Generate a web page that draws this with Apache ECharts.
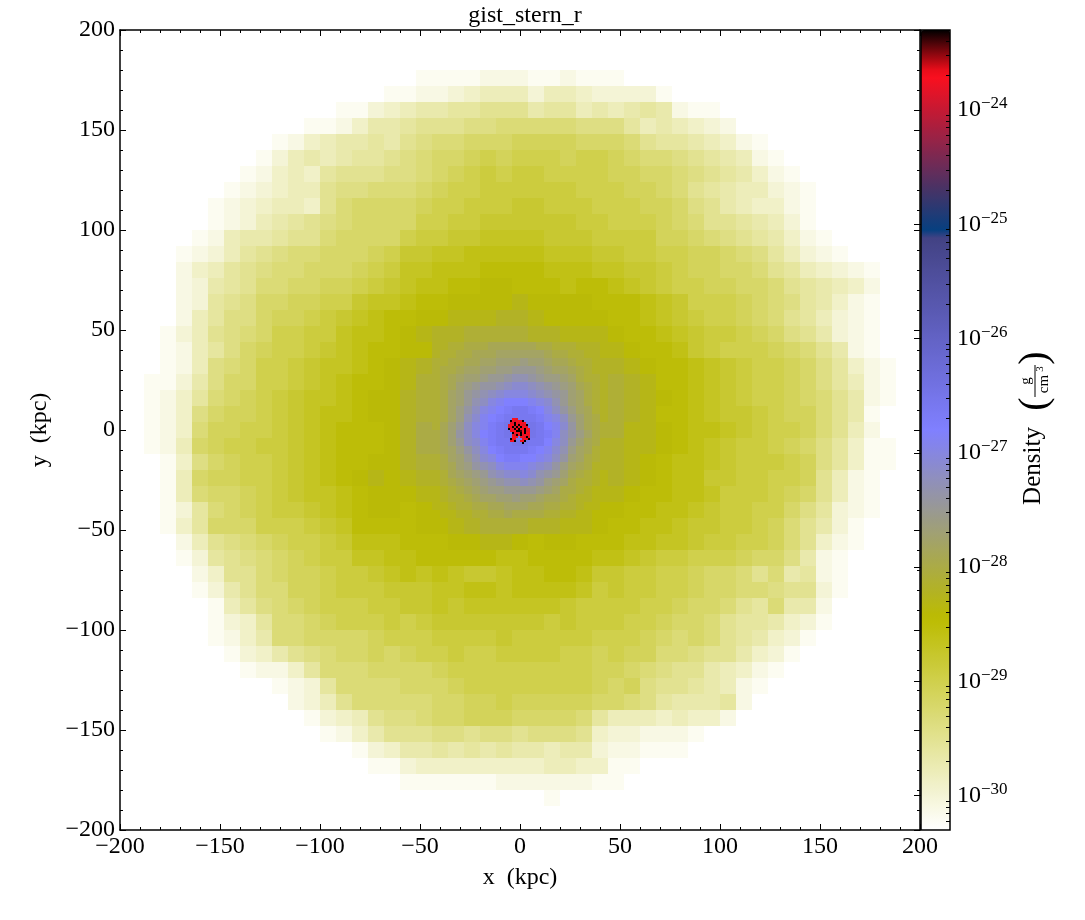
<!DOCTYPE html>
<html>
<head>
<meta charset="utf-8">
<title>gist_stern_r</title>
<style>
    html, body { margin: 0; padding: 0; background: #fff; }
    #myChart { width: 1085px; height: 920px; }
</style>
<script src="https://cdn.jsdelivr.net/npm/echarts@6/dist/echarts.min.js"></script>
</head>
<body>
<div id="myChart"></div>
<script>
// density in tenths of a decade above 1e-31 g/cm3, 0 = nothing drawn
// outer grid: 8 kpc cells, x and y from -184 to 184, top row first
var outerX = [-184,-176,-168,-160,-152,-144,-136,-128,-120,-112,-104,-96,-88,-80,-72,-64,-56,-48,-40,-32,-24,-16,-8,0,8,16,24,32,40,48,56,64,72,80,88,96,104,112,120,128,136,144,152,160,168,176,184];
var outerY = outerX.slice().reverse();
var outerRows = [
[],
[0,0,0,0,0,0,0,0,0,0,0,0,0,0,0,0,0,8,8,8,8,9,9,9,8,8,9,8,8,8],
[0,0,0,0,0,0,0,0,0,0,0,0,0,0,0,8,8,9,9,10,11,12,12,12,10,12,12,11,10,10,10,10,8],
[0,0,0,0,0,0,0,0,0,0,0,0,8,8,10,11,12,13,13,14,14,15,15,15,13,14,14,12,13,12,13,14,13,9,8,8],
[0,0,0,0,0,0,0,0,0,0,8,8,9,11,13,13,14,15,15,15,16,16,17,17,17,17,17,16,16,16,14,12,13,12,11,10,9],
[0,0,0,0,0,0,0,0,8,9,11,12,13,13,14,13,15,16,17,17,18,18,18,19,19,19,19,18,18,18,17,15,14,14,13,12,11,9,8],
[0,0,0,0,0,0,0,8,10,12,13,12,13,14,14,15,16,17,18,18,19,20,19,20,20,20,19,20,20,19,18,17,17,16,15,14,13,12,9,8],
[0,0,0,0,0,0,8,9,11,12,11,14,15,15,15,16,16,17,18,19,20,21,20,21,21,20,20,20,20,19,19,18,18,17,16,15,14,13,11,9,8],
[0,0,0,0,0,8,9,10,11,12,12,15,16,16,17,17,17,18,19,20,20,21,21,21,21,21,21,20,20,20,19,19,18,17,15,14,13,12,12,10,9,8],
[0,0,0,0,8,9,10,11,12,12,11,15,17,18,18,18,18,19,20,20,21,21,21,22,22,21,21,21,20,20,20,19,19,18,16,15,13,12,11,11,9,8],
[0,0,0,0,8,9,10,12,13,14,15,16,17,18,18,18,18,20,20,21,21,22,22,22,22,22,22,21,21,20,20,20,19,18,17,15,15,14,13,12,10,8],
[0,0,0,8,9,12,13,13,14,15,15,17,18,18,18,18,20,21,21,22,22,23,23,23,23,22,22,22,21,21,21,21,19,19,18,17,16,15,14,13,11,9,8],
[0,0,8,9,10,12,14,15,16,17,17,18,18,18,19,20,22,22,23,23,24,24,24,24,24,23,23,23,22,22,21,21,20,20,19,19,18,17,16,14,12,10,9,8],
[0,0,9,11,12,14,15,16,17,17,18,18,18,19,20,21,23,23,24,24,24,25,25,25,25,24,24,24,23,23,22,22,21,20,19,19,18,18,17,15,14,12,11,10,9,8],
[0,0,9,10,13,14,15,17,17,18,18,19,19,20,21,22,23,24,24,25,25,26,26,25,25,25,24,25,25,24,23,22,21,20,20,19,19,18,18,17,15,14,13,12,11,9],
[0,0,9,10,14,15,16,18,18,19,19,20,20,22,23,23,24,25,25,26,26,26,26,27,26,26,26,26,25,25,25,24,23,22,20,20,20,19,18,17,16,14,13,11,9,8],
[0,0,9,12,14,16,16,18,19,19,20,21,22,23,24,25,25,26,26,27,27,27,28,28,27,26,26,26,26,25,25,24,23,22,21,20,20,19,18,17,15,14,12,10,9,8],
[0,8,10,12,15,16,17,18,20,20,21,21,23,24,24,25,26,27,28,28,29,29,29,29,28,28,27,27,27,26,25,25,24,23,22,21,21,20,19,18,16,15,13,10,9,8],
[0,8,9,12,14,16,18,19,20,20,21,22,23,24,25,25,26,26,28,29,30,30,30,30,30,29,29,28,28,27,26,25,25,24,22,21,20,20,20,19,18,17,15,13,9,8],
[0,8,9,12,16,17,18,20,20,21,22,23,23,24,25,26,27,28,29,31,31,32,32,33,33,32,31,30,29,28,27,26,25,25,24,23,22,21,20,20,19,18,16,14,11,9,8],
[8,8,10,13,16,18,18,20,20,21,22,23,24,25,25,26,27,29,30,32,33,35,37,37,36,34,33,32,30,29,28,27,25,25,24,23,22,21,20,20,19,18,16,14,12,9,8],
[8,9,11,14,17,18,19,20,21,22,23,23,24,25,26,26,28,29,31,33,36,38,40,41,39,37,35,32,30,29,28,27,26,25,24,23,22,21,20,20,19,18,17,15,13,9,8],
[8,9,11,16,18,19,19,20,21,22,23,24,24,25,26,26,28,29,31,34,37,41,43,44,43,39,36,33,30,29,28,27,25,25,24,23,22,22,21,20,19,19,17,15,13,8],
[8,9,11,17,19,19,20,20,21,22,23,24,25,25,25,26,28,30,32,36,40,43,44,45,44,42,38,34,31,29,27,27,26,25,24,24,23,22,21,20,20,19,17,15,12,9],
[8,9,12,18,19,20,20,21,21,22,23,24,25,25,25,26,28,30,32,35,39,42,44,44,43,41,37,33,30,28,27,27,26,25,24,23,22,21,21,20,19,18,16,14,11,8,8],
[0,8,11,16,18,19,20,20,21,22,23,24,25,25,26,26,28,29,31,33,36,39,40,40,38,37,35,32,30,28,27,26,25,24,24,23,22,21,21,21,20,19,16,14,11,8,8],
[0,8,12,18,19,19,20,20,21,22,23,24,25,26,27,26,27,28,30,32,34,36,37,36,35,35,33,31,29,28,27,26,25,24,24,22,22,21,21,20,20,19,15,12,9,8],
[0,8,12,17,18,18,19,20,21,22,23,23,24,25,26,26,26,27,29,30,31,32,33,33,32,32,30,29,28,27,26,25,25,24,24,23,21,21,21,20,19,18,15,12,9,8],
[0,8,10,14,17,18,19,20,21,21,22,23,24,25,26,26,25,26,27,28,29,30,31,31,30,29,29,28,27,26,25,25,24,24,23,22,21,21,20,20,18,16,14,10,9,8],
[0,8,11,14,18,18,18,20,20,20,21,22,23,25,25,25,25,26,26,27,28,29,29,29,28,28,27,27,26,25,25,24,24,23,22,22,21,21,20,19,17,15,13,10,8],
[0,0,9,12,15,16,17,18,19,20,20,21,22,24,24,24,25,25,25,26,26,27,27,26,25,26,26,25,25,25,24,24,23,23,22,21,21,20,20,19,17,15,11,9,8],
[0,0,8,10,14,15,16,17,18,19,20,21,21,23,23,24,24,25,25,25,25,25,24,24,25,25,25,25,24,24,23,22,21,21,20,20,20,19,18,18,16,13,9,8],
[0,0,0,9,11,15,15,17,18,19,19,20,21,21,22,23,24,23,24,23,22,22,23,24,24,25,25,24,22,22,21,21,20,20,19,18,18,17,15,17,13,14,9,8],
[0,0,0,8,10,13,15,17,17,19,19,20,21,21,21,22,22,22,23,23,24,24,23,24,24,24,24,23,21,22,21,21,20,20,19,18,18,17,17,16,15,15,10,8],
[0,0,0,0,8,12,14,16,17,18,19,20,20,20,21,21,22,22,23,22,23,23,23,23,23,23,22,21,21,21,21,20,20,19,18,18,17,15,14,17,13,13,9],
[0,0,0,0,8,10,11,14,17,17,18,19,20,20,20,21,20,21,22,22,22,22,22,22,22,21,22,21,21,21,20,20,19,18,18,17,15,14,14,13,11,10,8],
[0,0,0,0,8,9,11,13,17,17,18,18,18,18,19,20,20,20,21,21,21,21,22,21,21,21,21,21,20,20,20,19,18,17,18,17,15,14,13,11,10,8],
[0,0,0,0,0,8,10,11,13,15,16,17,18,18,19,18,19,20,20,21,20,20,21,21,21,21,20,20,19,20,19,19,17,17,16,15,15,13,11,10,8],
[0,0,0,0,0,0,8,9,9,11,14,17,17,17,18,18,18,18,19,20,20,20,20,20,20,20,20,20,19,19,18,17,16,15,15,13,12,11,9,8],
[0,0,0,0,0,0,0,0,8,9,10,14,17,17,17,17,18,18,18,19,20,20,20,20,20,20,20,20,19,18,19,16,15,15,14,13,12,9,8],
[0,0,0,0,0,0,0,0,0,9,10,12,15,17,17,17,17,17,18,18,19,19,20,19,19,19,19,19,18,18,17,16,14,13,13,13,14,9],
[0,0,0,0,0,0,0,0,0,0,8,10,11,12,15,16,16,17,18,18,19,19,19,18,18,18,18,17,14,12,12,12,11,12,11,11,9],
[0,0,0,0,0,0,0,0,0,0,0,8,9,11,13,15,15,15,16,16,15,16,16,15,16,16,16,15,11,10,10,9,9,9,8],
[0,0,0,0,0,0,0,0,0,0,0,0,0,8,10,11,13,13,14,13,14,13,14,13,13,12,13,13,10,9,9,8,8,8],
[0,0,0,0,0,0,0,0,0,0,0,0,0,0,8,8,10,11,11,11,11,11,11,11,11,12,12,11,11,8,8],
[0,0,0,0,0,0,0,0,0,0,0,0,0,0,0,0,8,8,8,8,8,8,9,9,9,9,9,9,8,8],
[0,0,0,0,0,0,0,0,0,0,0,0,0,0,0,0,0,0,0,0,0,0,0,0,0,8]
];

// middle grid: 4 kpc cells around the centre
var middleX = [-42,-38,-34,-30,-26,-22,-18,-14,-10,-6,-2,2,6,10,14,18,22,26,30,34,38,42];
var middleY = middleX.slice().reverse();
var middleRows = [
[28,28,29,29,30,30,30,31,31,31,31,31,31,30,30,29,29,29,28,28,28,27],
[28,29,29,30,30,31,31,31,32,32,32,32,32,32,31,30,30,29,29,28,28,27],
[29,29,30,30,31,31,32,32,33,33,33,34,33,33,32,31,31,30,29,29,28,28],
[29,30,30,31,32,32,33,33,34,34,35,35,35,34,33,32,32,31,30,29,28,28],
[29,30,31,32,33,33,34,35,35,36,37,37,36,35,34,34,33,32,30,29,29,28],
[29,30,31,33,34,35,36,36,37,38,39,39,38,37,36,35,34,33,31,30,29,28],
[29,30,32,33,35,36,37,38,39,40,40,40,39,38,37,36,35,33,32,30,29,28],
[29,30,32,33,35,37,38,40,41,42,42,42,41,40,39,37,35,33,32,30,29,28],
[29,30,32,34,36,38,40,41,42,43,44,44,43,42,40,38,36,34,32,31,29,28],
[29,30,32,34,37,39,41,42,43,44,44,44,44,43,41,40,38,35,33,31,30,28],
[29,31,33,35,38,40,41,43,44,45,45,45,45,44,42,41,39,36,33,31,30,29],
[30,31,33,36,38,40,42,43,44,45,45,45,45,44,43,41,38,36,34,32,30,29],
[30,31,33,35,38,39,41,43,44,44,45,45,44,44,42,40,38,35,33,31,30,28],
[30,31,32,34,36,38,40,42,43,44,44,44,43,42,41,39,37,34,32,31,29,28],
[29,30,32,33,35,37,39,40,42,43,43,42,42,41,40,38,36,33,32,30,29,28],
[29,30,31,33,34,36,37,38,40,41,41,41,40,39,38,36,34,32,31,30,28,28],
[28,29,31,32,33,34,35,37,38,39,39,40,39,37,36,35,33,31,30,29,28,27],
[28,29,30,31,32,33,34,35,36,37,37,38,37,36,34,33,32,30,29,29,28,27],
[27,28,29,30,31,32,33,34,34,35,35,35,35,34,33,32,30,30,29,28,27,27],
[27,28,29,29,30,31,32,32,33,33,34,33,33,32,31,31,30,29,28,28,27,27],
[27,27,28,29,29,30,30,31,31,32,32,32,31,31,30,30,29,29,28,27,27,26],
[26,27,27,28,28,29,29,30,30,31,30,30,30,30,29,29,28,28,27,27,26,26]
];

// core: 1 kpc cells, the red spiral in the middle
var coreX = [-6.5,-5.5,-4.5,-3.5,-2.5,-1.5,-0.5,0.5,1.5,2.5,3.5,4.5,5.5,6.5];
var coreY = coreX.slice().reverse();
var coreRows = [
[],
[0,0,0,73,73,72],
[0,0,77,73,71,72,73,72,77],
[0,0,72,71,77,73,71,73,72,73],
[0,72,73,73,77,73,77,73,71,72,77],
[0,72,73,77,71,77,72,77,73,73,72],
[0,77,73,71,77,73,77,73,72,77,73,73],
[0,0,72,73,73,77,77,76,73,77,71,72],
[0,0,0,77,73,72,73,77,73,77,73,73],
[0,0,0,72,71,77,73,77,71,73,72,72],
[0,0,0,73,73,72,0,72,73,71,77,73],
[0,0,77,73,72,0,0,0,72,73,73,77],
[0,0,72,73,77,0,0,72,73,77],
[0,0,0,0,0,0,0,0,77]
];

var title = 'gist_stern_r';
var xTitle = 'x\u2002(kpc)';
var yTitle = 'y\u2002(kpc)';
var barTitle = 'Density';
var barExponents = [-30, -29, -28, -27, -26, -25, -24];
var barMinor = [];
for (var d = -31; d < -23; d++) {
    for (var k = 2; k < 10; k++) {
        var e = d + Math.log10(k);
        if (e > -30.3 && e < -23.3) barMinor.push(e);
    }
}

var serif = '"Liberation Serif", "DejaVu Serif", serif';
var levelMin = 7;
var levelMax = 77;

// gist_stern reversed, same segments as matplotlib
function segment(pts, s) {
    for (var i = 1; i < pts.length; i++) {
        if (s <= pts[i][0]) {
            var a = pts[i - 1], b = pts[i];
            return a[2] + (b[1] - a[2]) * (s - a[0]) / (b[0] - a[0]);
        }
    }
    return 1;
}
var colors = [];
for (var n = 0; n <= 512; n++) {
    var s = 1 - n / 512;
    var r = segment([[0, 0, 0], [0.0547, 1, 1], [0.25, 0.027, 0.25], [1, 1, 1]], s);
    var b = segment([[0, 0, 0], [0.5, 1, 1], [0.735, 0, 0], [1, 1, 1]], s);
    colors.push('rgb(' + Math.round(r * 255) + ',' + Math.round(s * 255) + ',' + Math.round(b * 255) + ')');
}

function cells(xs, ys, rows) {
    var out = [];
    rows.forEach(function (row, j) {
        row.forEach(function (v, i) {
            if (v > 0) out.push([xs[i], ys[j], v]);
        });
    });
    return out;
}

function cellSeries(xs, ys, rows, size) {
    return {
        type: 'custom',
        xAxisIndex: 0,
        yAxisIndex: 0,
        silent: true,
        animation: false,
        encode: { x: 0, y: 1 },
        data: cells(xs, ys, rows),
        renderItem: function (params, api) {
            var c = api.coord([api.value(0), api.value(1)]);
            var w = api.size([size, size]);
            return {
                type: 'rect',
                shape: { x: c[0] - w[0] / 2, y: c[1] - w[1] / 2, width: w[0], height: w[1] },
                style: { fill: api.visual('color') }
            };
        }
    };
}

function mainAxis(gridIndex, position, showLabel, name) {
    return {
        type: 'value',
        gridIndex: gridIndex,
        position: position,
        min: -200,
        max: 200,
        interval: 50,
        z: 10,
        name: name,
        nameLocation: 'middle',
        nameGap: 0,
        nameTextStyle: { fontFamily: serif, fontSize: 24, color: '#000' },
        splitLine: { show: false },
        axisLine: { show: true, onZero: false, lineStyle: { color: '#000', width: 1.5 } },
        axisTick: { show: true, inside: true, length: 6, lineStyle: { color: '#000', width: 1 } },
        minorTick: { show: true, splitNumber: 5, length: 3, lineStyle: { color: '#000', width: 1 } },
        axisLabel: {
            show: showLabel,
            fontFamily: serif,
            fontSize: 24,
            color: '#000',
            margin: 5,
            formatter: function (v) { return String(v).replace('-', '\u2212'); }
        }
    };
}

var xBottom = mainAxis(0, 'bottom', true, xTitle);
xBottom.nameGap = 36;
var yLeft = mainAxis(0, 'left', true, yTitle);
yLeft.nameGap = 68;

var myChart = echarts.init(document.getElementById('myChart'), null, { renderer: 'canvas' });
var option = {
    backgroundColor: '#fff',
    animation: false,
    title: {
        text: title,
        left: 520,
        top: -1,
        textAlign: 'center',
        textStyle: { fontFamily: serif, fontSize: 24, fontWeight: 'normal', color: '#000' }
    },
    grid: [
        { left: 120, top: 30, width: 800, height: 800 },
        { left: 921, top: 30, width: 29, height: 800, show: true, z: 10, backgroundColor: 'transparent', borderColor: '#000', borderWidth: 1.5 }
    ],
    xAxis: [
        xBottom,
        mainAxis(0, 'top', false, ''),
        { type: 'value', gridIndex: 1, show: false, min: 0, max: 1 }
    ],
    yAxis: [
        yLeft,
        mainAxis(0, 'right', false, ''),
        {
            type: 'value', gridIndex: 1, position: 'right', min: -30.3, max: -23.3, z: 10,
            splitLine: { show: false },
            axisLine: { show: false },
            axisTick: { show: true, inside: true, length: 7, customValues: barExponents, lineStyle: { color: '#000', width: 1 } },
            axisLabel: {
                show: true,
                customValues: barExponents,
                margin: 7,
                formatter: function (v) { return '{b|10}{s|\u2212' + Math.abs(Math.round(v)) + '}'; },
                rich: {
                    b: { fontFamily: serif, fontSize: 24, color: '#000' },
                    s: { fontFamily: serif, fontSize: 17, color: '#000', padding: [0, 0, 12, 0] }
                }
            }
        },
        {
            type: 'value', gridIndex: 1, position: 'right', min: -30.3, max: -23.3, z: 10,
            splitLine: { show: false },
            axisLine: { show: false },
            axisLabel: { show: false },
            axisTick: { show: true, inside: true, length: 4, customValues: barMinor, lineStyle: { color: '#000', width: 1 } }
        }
    ],
    visualMap: {
        type: 'continuous',
        seriesIndex: [0, 1, 2],
        dimension: 2,
        min: levelMin,
        max: levelMax,
        left: 921,
        top: 30,
        padding: 0,
        itemWidth: 29,
        itemHeight: 800,
        calculable: false,
        hoverLink: false,
        text: null,
        showLabel: false,
        inRange: { color: colors },
        textStyle: { color: 'transparent' }
    },
    series: [
        cellSeries(outerX, outerY, outerRows, 8),
        cellSeries(middleX, middleY, middleRows, 4),
        cellSeries(coreX, coreY, coreRows, 1)
    ],
    graphic: [
        {
            type: 'group',
            x: 1035,
            y: 381,
            rotation: Math.PI / 2,
            children: [
                { type: 'text', x: -85, y: -2, style: { text: barTitle, font: '25px ' + serif, fill: '#000', textAlign: 'center', textVerticalAlign: 'middle' } },
                { type: 'text', x: -23, y: 0, scaleY: 1, style: { text: '(', font: '40px ' + serif, fill: '#000', textAlign: 'center', textVerticalAlign: 'middle' } },
                { type: 'text', x: 23, y: 0, style: { text: ')', font: '40px ' + serif, fill: '#000', textAlign: 'center', textVerticalAlign: 'middle' } },
                { type: 'line', shape: { x1: -16, y1: 0, x2: 16, y2: 0 }, style: { stroke: '#000', lineWidth: 1 } },
                { type: 'text', x: 0, y: -9, style: { text: 'g', font: '15px ' + serif, fill: '#000', textAlign: 'center', textVerticalAlign: 'middle' } },
                { type: 'text', x: -3, y: 9, style: { text: 'cm', font: '15px ' + serif, fill: '#000', textAlign: 'center', textVerticalAlign: 'middle' } },
                { type: 'text', x: 12, y: 5, style: { text: '3', font: '11px ' + serif, fill: '#000', textAlign: 'center', textVerticalAlign: 'middle' } }
            ]
        }
    ]
};
myChart.setOption(option);
</script>
</body>
</html>
